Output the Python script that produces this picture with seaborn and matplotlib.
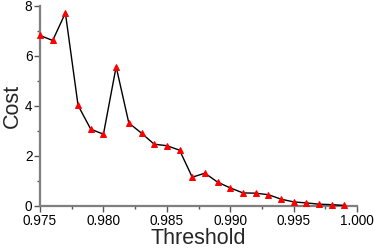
import matplotlib
matplotlib.use("Agg")
import matplotlib.pyplot as plt
import seaborn as sns
import pandas as pd
from matplotlib.ticker import MultipleLocator, FormatStrFormatter

threshold = [0.975, 0.976, 0.977, 0.978, 0.979, 0.980, 0.981, 0.982, 0.983, 0.984,
             0.985, 0.986, 0.987, 0.988, 0.989, 0.990, 0.991, 0.992, 0.993, 0.994,
             0.995, 0.996, 0.997, 0.998, 0.999]
cost = [6.82, 6.62, 7.72, 4.02, 3.07, 2.87, 5.57, 3.32, 2.91, 2.47,
        2.41, 2.23, 1.15, 1.31, 0.95, 0.72, 0.52, 0.51, 0.45, 0.27,
        0.16, 0.12, 0.07, 0.05, 0.02]

df = pd.DataFrame({"Threshold": threshold, "Cost": cost})

sns.set_style("ticks")
plt.rcParams['font.family'] = ['Liberation Sans', 'DejaVu Sans']

fig = plt.figure(figsize=(3.74, 2.49), dpi=100)
ax = fig.add_axes([0.107, 0.173, 0.848, 0.803])
sns.lineplot(data=df, x="Threshold", y="Cost", ax=ax, color="black", linewidth=1,
             marker="^", markersize=4.5, markerfacecolor="red", markeredgecolor="red",
             clip_on=False, zorder=3)

ax.set_xlim(0.975, 1.000)
ax.set_ylim(0, 8)
ax.xaxis.set_major_locator(MultipleLocator(0.005))
ax.xaxis.set_minor_locator(MultipleLocator(0.0025))
ax.yaxis.set_major_locator(MultipleLocator(2))
ax.yaxis.set_minor_locator(MultipleLocator(1))
ax.xaxis.set_major_formatter(FormatStrFormatter('%.3f'))
ax.yaxis.set_major_formatter(FormatStrFormatter('%d'))

for s in ["top", "right"]:
    ax.spines[s].set_visible(False)
for s in ["left", "bottom"]:
    ax.spines[s].set_color("#7f7f7f")
    ax.spines[s].set_linewidth(1.6)

ax.tick_params(which="major", length=4, width=1, color="#555555", labelsize=9.8, pad=1.5, labelcolor="black")
ax.tick_params(which="minor", length=2.5, width=1, color="#555555")

ax.set_xlabel("Threshold", fontsize=15.5, labelpad=0)
ax.set_ylabel("Cost", fontsize=15.5, labelpad=1)

fig.savefig("out.png", dpi=100)
